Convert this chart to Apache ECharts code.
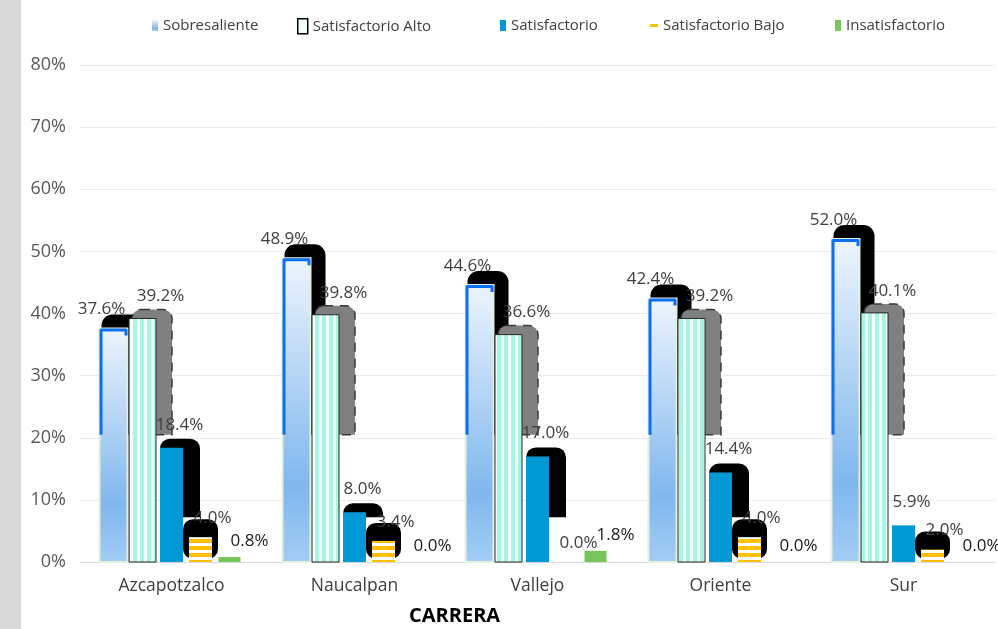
<!DOCTYPE html>
<html><head><meta charset="utf-8">
<script src="https://cdn.jsdelivr.net/npm/echarts@6/dist/echarts.min.js"></script>
<style>html,body{margin:0;padding:0;background:#fff}#c{width:998px;height:629px}</style>
</head><body><div id="c"></div>
<script>
// ---------- data ----------
const categories = ['Azcapotzalco', 'Naucalpan', 'Vallejo', 'Oriente', 'Sur'];
const seriesNames = ['Sobresaliente', 'Satisfactorio Alto', 'Satisfactorio', 'Satisfactorio Bajo', 'Insatisfactorio'];
const sobresaliente = [37.6, 48.9, 44.6, 42.4, 52.0];
const satisfactorioAlto = [39.2, 39.8, 36.6, 39.2, 40.1];
const satisfactorio = [18.4, 8.0, 17.0, 14.4, 5.9];
const satisfactorioBajo = [4.0, 3.4, 0.0, 4.0, 2.0];
const insatisfactorio = [0.8, 0.0, 1.8, 0.0, 0.0];
const yTicks = [0, 10, 20, 30, 40, 50, 60, 70, 80];
const xTitle = 'CARRERA';

const allValues = [sobresaliente, satisfactorioAlto, satisfactorio, satisfactorioBajo, insatisfactorio];

// ---------- style ----------
const FONT = '"Open Sans", "Liberation Sans", sans-serif';
const STEP = 29;
const WIDTHS = [28, 27, 23, 23, 22];
const SHADOW_CLIP = [20.5, 20.5, 7.2, null, null];
const LABEL_OFF = [[-12, 19], [18, 22], [8, 23], [12, 19], [20, 16]];

function stripePattern(w, h, bg, fg, vertical, band) {
  const c = document.createElement('canvas');
  c.width = w; c.height = h;
  const g = c.getContext('2d');
  g.fillStyle = bg; g.fillRect(0, 0, w, h);
  g.fillStyle = fg;
  if (vertical) g.fillRect(0, 0, band, h); else g.fillRect(0, 0, w, band);
  return c;
}
const mintPattern = { image: stripePattern(7, 7, '#f3fffb', '#a9f5e3', true, 4), repeat: 'repeat' };
const orangePattern = { image: stripePattern(7, 7, '#ffffff', '#ffc000', false, 4), repeat: 'repeat' };
function blueGrad() {
  return new echarts.graphic.LinearGradient(0, 0, 0, 1, [
    { offset: 0, color: '#eef5fd' }, { offset: 0.75, color: '#7fb7ee' }, { offset: 1, color: '#a3cdf4' }
  ]);
}
const COLORS = ['#8fc0f0', '#f3fffb', '#0099d6', '#ffc000', '#78c65a'];

function renderFor(s) {
  return function (params, api) {
    const cat = api.value(0), v = api.value(1);
    const base = api.coord([cat, 0]);
    const topP = api.coord([cat, v]);
    const cx = base[0] + (s - 2) * STEP;
    const w = WIDTHS[s];
    const L = cx - w / 2, R = cx + w / 2;
    const y0 = base[1], yt = topP[1];
    const ch = [];
    const clipY = SHADOW_CLIP[s] != null ? api.coord([cat, SHADOW_CLIP[s]])[1] : null;
    if (v > 0) {
      if (s === 0) {
        const st = yt - 14;
        if (st < clipY - 3) ch.push({ type: 'rect', shape: { x: L + 2, y: st, width: w + 13, height: clipY - st, r: [11, 11, 0, 0] }, style: { fill: '#000' } });
        ch.push({ type: 'rect', shape: { x: L, y: yt, width: w, height: y0 - yt }, style: { fill: blueGrad(), stroke: '#e4f0dc', lineWidth: 2 } });
        const by = Math.max(clipY, yt + 6);
        ch.push({ type: 'polyline', shape: { points: [[L + 1.5, by], [L + 1.5, yt + 1.5], [R - 1.5, yt + 1.5], [R - 1.5, yt + 7]] }, style: { stroke: '#0a6ff0', lineWidth: 3, fill: null, lineJoin: 'round' } });
      } else if (s === 1) {
        const st = yt - 9;
        if (st < clipY - 3) ch.push({ type: 'rect', shape: { x: L + 3, y: st, width: w + 13, height: clipY - st, r: [9, 9, 0, 0] }, style: { fill: '#808080', stroke: '#3a3a3a', lineWidth: 1.5, lineDash: [9, 7] } });
        ch.push({ type: 'rect', shape: { x: L, y: yt, width: w, height: y0 - yt }, style: { fill: mintPattern, stroke: '#262626', lineWidth: 1 } });
      } else if (s === 2) {
        const st = yt - 9;
        if (st < clipY - 3) ch.push({ type: 'rect', shape: { x: L, y: st, width: w + 17, height: clipY - st, r: [10, 10, 0, 0] }, style: { fill: '#000' } });
        ch.push({ type: 'rect', shape: { x: L, y: yt, width: w, height: y0 - yt }, style: { fill: '#0099d6' } });
      } else if (s === 3) {
        const st = yt - 18;
        ch.push({ type: 'rect', shape: { x: L - 6, y: st, width: w + 12, height: (y0 - 3) - st, r: 10 }, style: { fill: '#000' } });
        ch.push({ type: 'rect', shape: { x: L, y: yt, width: w, height: y0 - yt }, style: { fill: orangePattern } });
      } else {
        ch.push({ type: 'rect', shape: { x: L, y: yt, width: w, height: y0 - yt }, style: { fill: '#78c65a' } });
      }
    }
    const off = LABEL_OFF[s];
    ch.push({
      type: 'text', z2: 100,
      style: {
        text: v.toFixed(1) + '%', x: cx + off[0], y: yt - off[1], align: 'center', verticalAlign: 'middle',
        font: '17px ' + FONT, fill: s === 4 ? '#1a1a1a' : '#404040'
      }
    });
    return { type: 'group', children: ch };
  };
}

const series = seriesNames.map((name, s) => ({
  type: 'custom', name: name,
  data: categories.map((c, i) => [i, allValues[s][i]]),
  encode: { x: 0, y: 1 },
  renderItem: renderFor(s),
  itemStyle: { color: COLORS[s] },
  animation: false
}));

const legendDefs = [
  { left: 152, w: 6, h: 11, st: { color: blueGrad() } },
  { left: 297, w: 10, h: 15, st: { color: '#f3fffb', borderColor: '#000', borderWidth: 1.5 } },
  { left: 500, w: 6, h: 11, st: { color: '#0099d6' } },
  { left: 650, w: 8, h: 3, st: { color: '#ffc000' } },
  { left: 835, w: 6, h: 11, st: { color: '#78c65a' } }
];
const legends = legendDefs.map((d, i) => ({
  left: d.left, top: 18, padding: 0, itemWidth: d.w, itemHeight: d.h, itemGap: 0, selectedMode: false,
  textStyle: { color: '#404040', fontSize: 15, fontFamily: FONT },
  data: [{ name: seriesNames[i], icon: 'rect', itemStyle: d.st }]
}));

const chart = echarts.init(document.getElementById('c'));
chart.setOption({
  animation: false,
  backgroundColor: '#ffffff',
  legend: legends,
  grid: { left: 80, right: 3, top: 65, bottom: 67, containLabel: false },
  xAxis: {
    type: 'category', data: categories,
    axisLine: { lineStyle: { color: '#d9d9d9', width: 1 } },
    axisTick: { show: false },
    axisLabel: { color: '#404040', fontSize: 17.5, fontFamily: FONT, margin: 15 },
    splitLine: { show: false }
  },
  yAxis: {
    type: 'value', min: yTicks[0], max: yTicks[yTicks.length - 1], interval: yTicks[1] - yTicks[0],
    axisLine: { show: false }, axisTick: { show: false },
    axisLabel: { formatter: '{value}%', color: '#595959', fontSize: 18, fontFamily: FONT, margin: 14 },
    splitLine: { lineStyle: { color: '#ebebeb', width: 1 } }
  },
  graphic: [
    { type: 'rect', left: 0, top: 0, shape: { width: 21, height: 629 }, style: { fill: '#d9d9d9' }, silent: true },
    { type: 'text', left: 409, top: 606, style: { text: xTitle, font: 'bold 20px ' + FONT, fill: '#000' } }
  ],
  series: series
});
</script></body></html>
